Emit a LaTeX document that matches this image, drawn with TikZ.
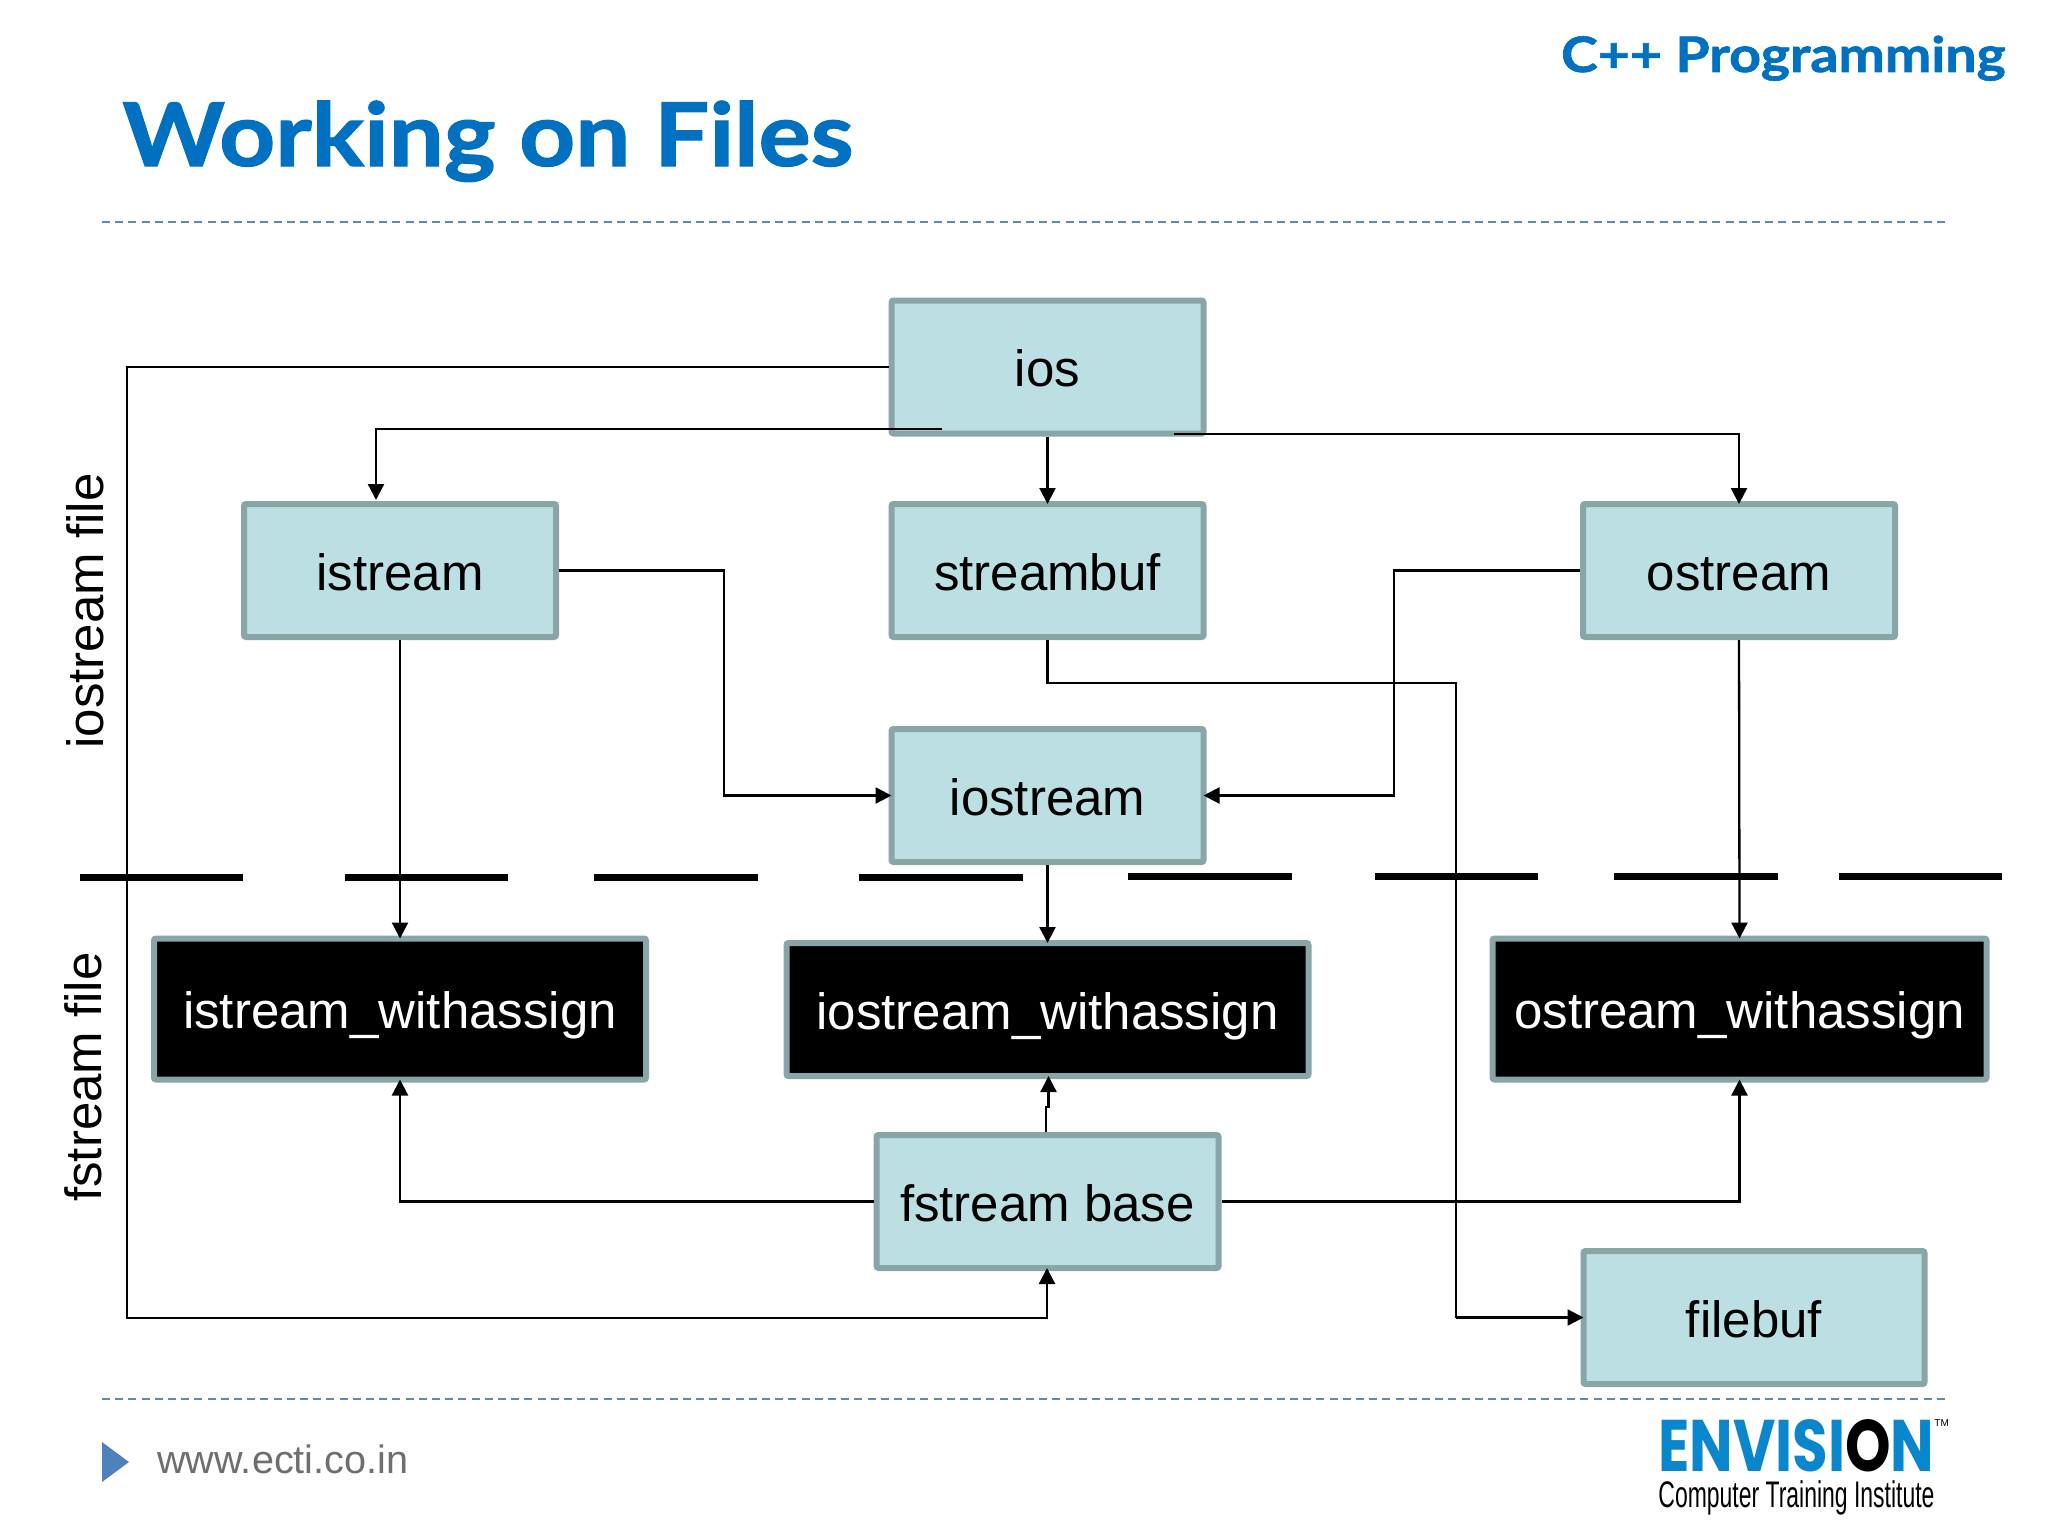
\documentclass[tikz,border=0pt]{standalone}
\usepackage{fontspec}
\setmainfont{Liberation Sans}
\newfontfamily\titlefont[BoldFeatures={FakeBold=1.3}]{Lato}
\newfontfamily\logofont{Poppins}
\usetikzlibrary{arrows.meta}
\definecolor{headblue}{HTML}{0070C0}
\definecolor{rulegray}{HTML}{5F88B5}
\definecolor{boxfill}{HTML}{BBDFE2}
\definecolor{boxline}{HTML}{8AA5A8}
\definecolor{logoblue}{HTML}{0A86CC}
\definecolor{urlgray}{HTML}{6E6E6E}
\definecolor{markblue}{HTML}{4F81BD}

\begin{document}
\begin{tikzpicture}[x=0.5pt,y=-0.5pt,>={Triangle[length=8pt,width=8pt]},
	classbox/.style={draw=boxline,fill=boxfill,line width=3pt,rounded corners=1pt,inner sep=0pt,
		minimum width=156pt,minimum height=66.5pt,text height=22pt,text depth=2.4pt,font=\fontsize{25.5}{30}\selectfont},
	withbox/.style={classbox,fill=black,text=white,minimum width=#1},
	sidelabel/.style={rotate=90,font=\fontsize{25.5}{30}\selectfont},
	link/.style={line width=1.15pt},
	tolink/.style={link,->,shorten >=-1.5pt},
	rulefine/.style={draw=rulegray,line width=1pt,dash pattern=on 4pt off 2.6pt},
	cutbar/.style={line width=3.5pt}]
	\useasboundingbox (0,0) rectangle (2048,1536);
	\node[text=headblue,anchor=base west,inner sep=0pt] (title) at (122,166) {\scalebox{1.11}[1]{\titlefont\bfseries\fontsize{44}{48}\selectfont Working on Files}};
	\node[text=headblue,anchor=base east,inner sep=0pt] (course) at (2006,72) {\scalebox{1.13}[1]{\titlefont\bfseries\fontsize{24.5}{28}\selectfont C++ Programming}};
	\draw[rulefine] (102,222) -- (1946,222);
	\draw[rulefine] (102,1399) -- (1946,1399);

	\node[classbox] (ios) at (1047.5,367) {ios};
	\node[classbox] (istream) at (400,570.5) {istream};
	\node[classbox] (streambuf) at (1047.5,570.5) {streambuf};
	\node[classbox] (ostream) at (1739,570.5) {ostream};
	\node[classbox] (iostream) at (1047.5,795.5) {iostream};
	\node[withbox=246pt,minimum height=70.5pt] (istreamw) at (400,1009) {istream\_withassign};
	\node[withbox=261pt] (iostreamw) at (1047.5,1009.5) {iostream\_withassign};
	\node[withbox=247pt,minimum height=70.5pt] (ostreamw) at (1739.5,1009) {ostream\_withassign};
	\node[classbox,minimum width=171pt] (fstream) at (1047.5,1201.5) {fstream base};
	\node[classbox,minimum width=170.5pt] (filebuf) at (1754,1317.5) {filebuf};

	\node[sidelabel] (iosidelabel) at (85,611) {iostream file};
	\node[sidelabel] (fsidelabel) at (83,1077) {fstream file};

	\coordinate (leftbustop) at (127,367);
	\coordinate (leftbusend) at (127,1318);
	\coordinate (fstreamin) at (1047,1318);
	\coordinate (iosleftout) at (942,429);
	\coordinate (istreamin) at (376,500);
	\coordinate (iosrightout) at (1174,434);
	\coordinate (leftjoin) at (724,795.5);
	\coordinate (rightjoin) at (1394,795.5);
	\coordinate (filebusa) at (1456,683);
	\coordinate (filebusb) at (1456,1317.5);
	\coordinate (jogl) at (1046,1107);
	\coordinate (jogr) at (1048.5,1107);

	\draw[tolink] (ios.west) -- (leftbustop) -- (leftbusend) -- (fstreamin) -- (fstreamin |- fstream.south);
	\draw[link,->] (iosleftout) -| (istreamin);
	\draw[tolink] (ios.south) -- (streambuf.north);
	\draw[tolink] (iosrightout) -| (ostream.north);
	\draw[tolink] (istream.east) -| (leftjoin) -- (iostream.west);
	\draw[tolink] (ostream.west) -| (rightjoin) -- (iostream.east);
	\draw[link] (streambuf.south) |- (filebusa) -- (filebusb);
	\draw[tolink] (filebusb) -- (filebuf.west);
	\draw[tolink] (istream.south) -- (istreamw.north);
	\draw[tolink] (iostream.south) -- (iostreamw.north);
	\draw[tolink] (ostream.south) -- (ostreamw.north);
	\draw[tolink] (fstream.west) -| (istreamw.south);
	\draw[tolink] (fstream.east) -| (ostreamw.south);
	\draw[tolink] (jogl |- fstream.north) -- (jogl) -- (jogr) -- (jogr |- iostreamw.south);

	\foreach \xa/\xb/\ya in {80/243/877,345/508/877,594/758/877,859/1023/877,1128/1292/876,1375/1538/876,1614/1778/876,1839/2002/876}
		\draw[cutbar] (\xa,\ya) -- (\xb,\ya);

	\fill[markblue] (102,1442) -- (129,1462) -- (102,1482) -- cycle;
	\node[text=urlgray,anchor=base west,inner sep=0pt,font=\fontsize{19.8}{24}\selectfont] (url) at (157,1473) {www.ecti.co.in};
	\node[text=logoblue,anchor=south west,inner sep=0pt] (envision) at (1658,1472) {\resizebox{138pt}{26pt}{\logofont\bfseries ENVISI{\color{black}O}N}};
	\node[anchor=base west,inner sep=0pt,font=\fontsize{5}{6}\selectfont] (trademark) at (1934,1426) {TM};
	\node[anchor=base west,inner sep=0pt] (institute) at (1658,1507) {\resizebox{138pt}{!}{\scalebox{0.62}[1]{\fontsize{18}{20}\selectfont Computer Training Institute}}};
\end{tikzpicture}
\end{document}
